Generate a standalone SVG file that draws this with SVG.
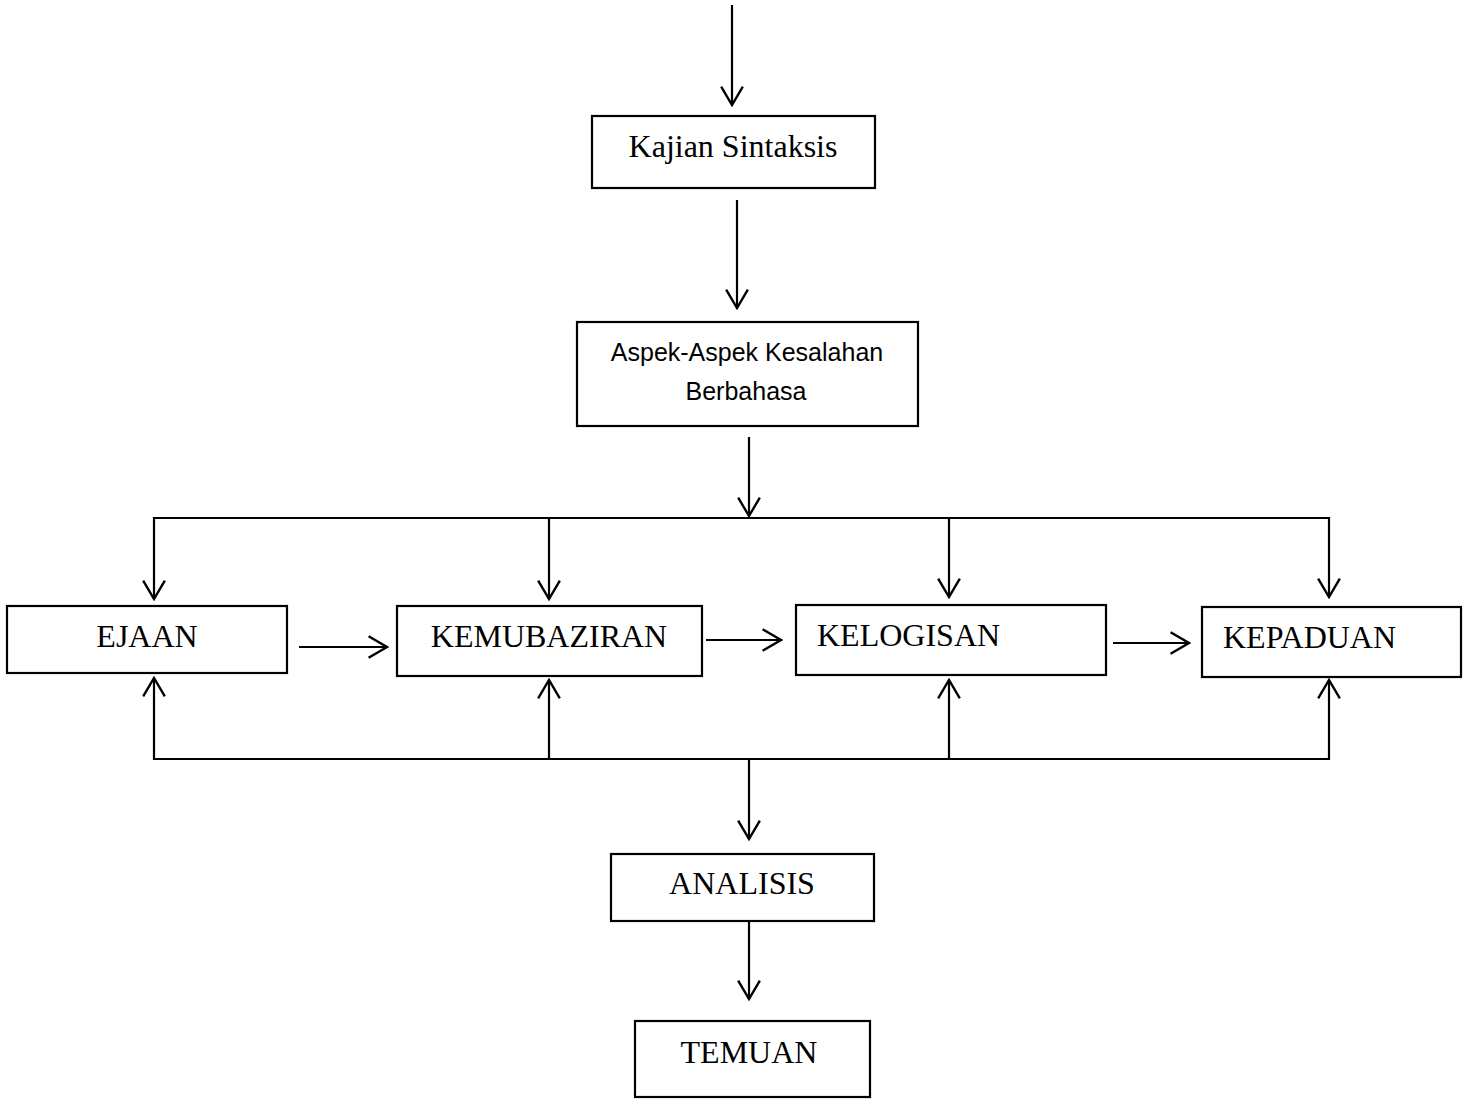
<svg xmlns="http://www.w3.org/2000/svg" width="1468" height="1099" viewBox="0 0 1468 1099">
<style>
.box{fill:#fff;stroke:#000;stroke-width:2.2}
.t{font-family:"Liberation Serif","Times New Roman",serif;font-size:32px;fill:#000}
.s{font-family:"Liberation Sans",Arial,sans-serif;font-size:25px;fill:#000}
.c{fill:none;stroke:#000;stroke-width:2.2}
</style>
<defs>
<marker id="ah" markerUnits="userSpaceOnUse" markerWidth="24" markerHeight="26" viewBox="-20 -12 22 24" refX="0" refY="0" orient="auto">
<path d="M-17,-10 L0,0 L-17,10" fill="none" stroke="#000" stroke-width="2.2"/>
</marker>
</defs>
<rect width="1468" height="1099" fill="#fff"/>
<g id="connectors">
<line class="c" x1="732" y1="5" x2="732" y2="105" marker-end="url(#ah)"/>
<line class="c" x1="737" y1="200" x2="737" y2="308" marker-end="url(#ah)"/>
<line class="c" x1="749" y1="437" x2="749" y2="516" marker-end="url(#ah)"/>
<line class="c" x1="154" y1="518" x2="1330" y2="518"/>
<line class="c" x1="154" y1="517" x2="154" y2="599" marker-end="url(#ah)"/>
<line class="c" x1="549" y1="518" x2="549" y2="599" marker-end="url(#ah)"/>
<line class="c" x1="949" y1="518" x2="949" y2="597" marker-end="url(#ah)"/>
<line class="c" x1="1329" y1="517" x2="1329" y2="597" marker-end="url(#ah)"/>
<line class="c" x1="299" y1="647" x2="387" y2="647" marker-end="url(#ah)"/>
<line class="c" x1="706" y1="640" x2="781" y2="640" marker-end="url(#ah)"/>
<line class="c" x1="1113" y1="643" x2="1189" y2="643" marker-end="url(#ah)"/>
<line class="c" x1="154" y1="759" x2="1330" y2="759"/>
<line class="c" x1="154" y1="760" x2="154" y2="678" marker-end="url(#ah)"/>
<line class="c" x1="549" y1="759" x2="549" y2="680" marker-end="url(#ah)"/>
<line class="c" x1="949" y1="759" x2="949" y2="680" marker-end="url(#ah)"/>
<line class="c" x1="1329" y1="760" x2="1329" y2="680" marker-end="url(#ah)"/>
<line class="c" x1="749" y1="759" x2="749" y2="839" marker-end="url(#ah)"/>
<line class="c" x1="749" y1="921" x2="749" y2="999" marker-end="url(#ah)"/>
</g>
<g id="kajian">
<rect class="box" x="592" y="116" width="283" height="72"/>
<text class="t" x="733" y="157" text-anchor="middle">Kajian Sintaksis</text>
</g>
<g id="aspek">
<rect class="box" x="577" y="322" width="341" height="104"/>
<text class="s" x="747" y="361" text-anchor="middle">Aspek-Aspek Kesalahan</text>
<text class="s" x="746" y="400" text-anchor="middle">Berbahasa</text>
</g>
<g id="ejaan">
<rect class="box" x="7" y="606" width="280" height="67"/>
<text class="t" x="147" y="647" text-anchor="middle">EJAAN</text>
</g>
<g id="kemubaziran">
<rect class="box" x="397" y="606" width="305" height="70"/>
<text class="t" x="549" y="647" text-anchor="middle">KEMUBAZIRAN</text>
</g>
<g id="kelogisan">
<rect class="box" x="796" y="605" width="310" height="70"/>
<text class="t" x="817" y="646">KELOGISAN</text>
</g>
<g id="kepaduan">
<rect class="box" x="1202" y="607" width="259" height="70"/>
<text class="t" x="1223" y="648">KEPADUAN</text>
</g>
<g id="analisis">
<rect class="box" x="611" y="854" width="263" height="67"/>
<text class="t" x="742" y="894" text-anchor="middle">ANALISIS</text>
</g>
<g id="temuan">
<rect class="box" x="635" y="1021" width="235" height="76"/>
<text class="t" x="749" y="1063" text-anchor="middle">TEMUAN</text>
</g>
</svg>
